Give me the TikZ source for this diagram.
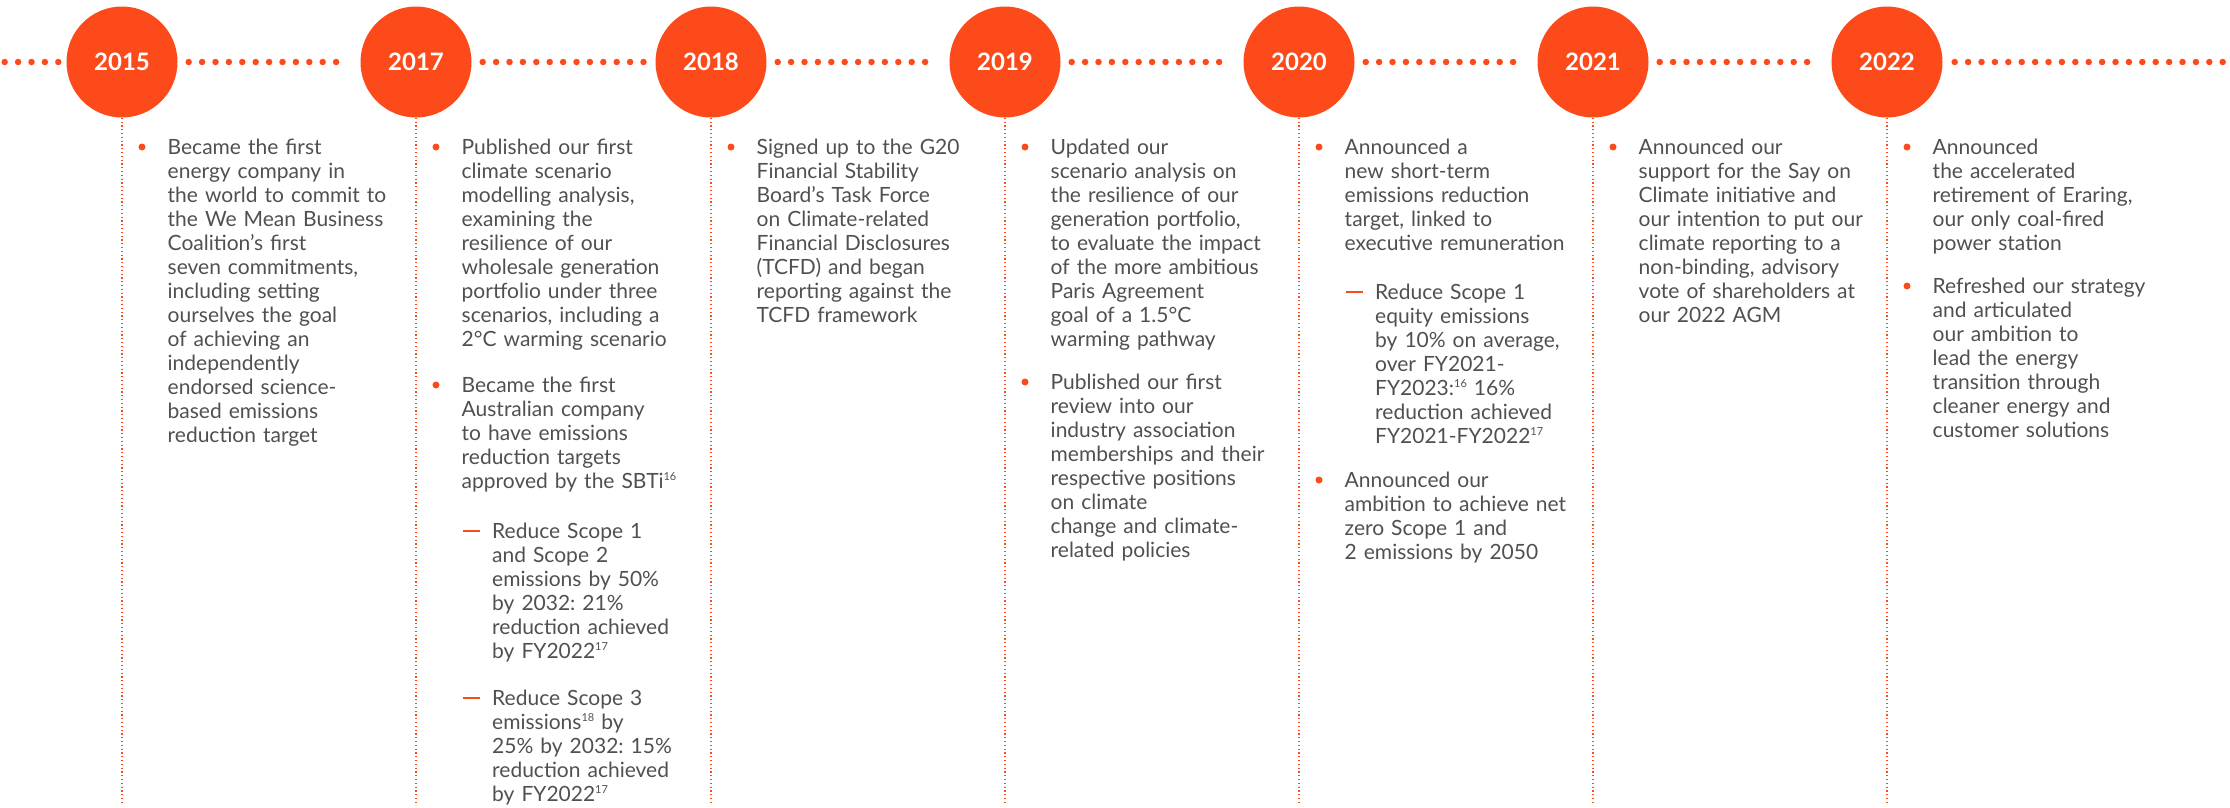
\documentclass[tikz,border=0pt]{standalone}
\usepackage{fontspec}
\setmainfont{Lato}
\frenchspacing
\definecolor{accent}{RGB}{252,74,26}
\definecolor{ink}{RGB}{80,80,80}
\tikzset{
	year/.style={circle, fill=accent, minimum size=111pt, inner sep=0pt, text=white, font=\fontsize{24}{24}\selectfont\bfseries},
	track/.style={accent, line width=6.5pt, line cap=round, dash pattern=on 0pt off 13.4pt},
	stem/.style={accent, line width=1.2pt, line cap=butt, dash pattern=on 1.2pt off 2.6pt},
	txt/.style={anchor=base west, inner sep=0pt, text width=300pt, align=left, text=ink, font=\fontsize{21}{24}\selectfont},
	dot/.style={circle, fill=accent, inner sep=0pt, minimum size=7pt},
	rulemark/.style={rectangle, fill=accent, inner sep=0pt, minimum width=17pt, minimum height=1.8pt}
}
\newcommand\supnum[1]{\raisebox{8pt}{\fontsize{11}{11}\selectfont #1}}
\begin{document}
\begin{tikzpicture}[x=1pt, y=-1pt, line join=round]
	\useasboundingbox (0,0) rectangle (2230,807);
	\def\ytop{62} \def\ybot{803} % Trục thời gian
	\foreach \yr/\cx in {2015/122,2017/416,2018/711,2019/1005,2020/1299,2021/1593,2022/1887}{
		\node[year] (y\yr) at (\cx,\ytop) {\yr};
		\coordinate (b\yr) at (\cx,\ybot);
		\draw[stem] (y\yr.south) -- (b\yr);
	}
	\coordinate (lend) at (0,\ytop);
	\coordinate (rend) at (2230,\ytop);
	\draw[track, shorten <=8pt] (y2015.west) -- (lend);
	\foreach \a/\b in {2015/2017,2017/2018,2018/2019,2019/2020,2020/2021,2021/2022}
		\draw[track, shorten <=11pt, shorten >=11pt] (y\a.east) -- (y\b.west);
	\draw[track, shorten <=12pt] (y2022.east) -- (rend);
	% 2015
	\node[dot] (d15a) at (142,147) {};
	\node[txt] (t15a) at (167.5,154) {Became the first\\energy company in\\the world to commit to\\the We Mean Business\\Coalition’s first\\seven commitments,\\including setting\\ourselves the goal\\of achieving an\\independently\\endorsed science-\\based emissions\\reduction target};
	% 2017
	\node[dot] (d17a) at (436,147) {};
	\node[txt] (t17a) at (461.5,154) {Published our first\\climate scenario\\modelling analysis,\\examining the\\resilience of our\\wholesale generation\\portfolio under three\\scenarios, including a\\2°C warming scenario};
	\node[dot] (d17b) at (436,385) {};
	\node[txt] (t17b) at (461.5,392) {Became the first\\Australian company\\to have emissions\\reduction targets\\approved by the SBTi\supnum{16}};
	\node[rulemark] (r17c) at (471.5,531) {};
	\node[txt] (t17c) at (492,538) {Reduce Scope 1\\and Scope 2\\emissions by 50\%\\by 2032: 21\%\\reduction achieved\\by FY2022\supnum{17}};
	\node[rulemark] (r17d) at (471.5,698) {};
	\node[txt] (t17d) at (492,705) {Reduce Scope 3\\emissions\supnum{18} by\\25\% by 2032: 15\%\\reduction achieved\\by FY2022\supnum{17}};
	% 2018
	\node[dot] (d18a) at (731,147) {};
	\node[txt] (t18a) at (756.5,154) {Signed up to the G20\\Financial Stability\\Board’s Task Force\\on Climate-related\\Financial Disclosures\\(TCFD) and began\\reporting against the\\TCFD framework};
	% 2019
	\node[dot] (d19a) at (1025,147) {};
	\node[txt] (t19a) at (1050.5,154) {Updated our\\scenario analysis on\\the resilience of our\\generation portfolio,\\to evaluate the impact\\of the more ambitious\\Paris Agreement\\goal of a 1.5°C\\warming pathway};
	\node[dot] (d19b) at (1025,382) {};
	\node[txt] (t19b) at (1050.5,389) {Published our first\\review into our\\industry association\\memberships and their\\respective positions\\on climate\\change and climate-\\related policies};
	% 2020
	\node[dot] (d20a) at (1319,147) {};
	\node[txt] (t20a) at (1344.5,154) {Announced a\\new short-term\\emissions reduction\\target, linked to\\executive remuneration};
	\node[rulemark] (r20b) at (1354.5,292) {};
	\node[txt] (t20b) at (1375,299) {Reduce Scope 1\\equity emissions\\by 10\% on average,\\over FY2021-\\FY2023:\supnum{16} 16\%\\reduction achieved\\FY2021-FY2022\supnum{17}};
	\node[dot] (d20c) at (1319,480) {};
	\node[txt] (t20c) at (1344.5,487) {Announced our\\ambition to achieve net\\zero Scope 1 and\\2 emissions by 2050};
	% 2021
	\node[dot] (d21a) at (1613,147) {};
	\node[txt] (t21a) at (1638.5,154) {Announced our\\support for the Say on\\Climate initiative and\\our intention to put our\\climate reporting to a\\non-binding, advisory\\vote of shareholders at\\our 2022 AGM};
	% 2022
	\node[dot] (d22a) at (1907,147) {};
	\node[txt] (t22a) at (1932.5,154) {Announced\\the accelerated\\retirement of Eraring,\\our only coal-fired\\power station};
	\node[dot] (d22b) at (1907,286) {};
	\node[txt] (t22b) at (1932.5,293) {Refreshed our strategy\\and articulated\\our ambition to\\lead the energy\\transition through\\cleaner energy and\\customer solutions};
\end{tikzpicture}
\end{document}
